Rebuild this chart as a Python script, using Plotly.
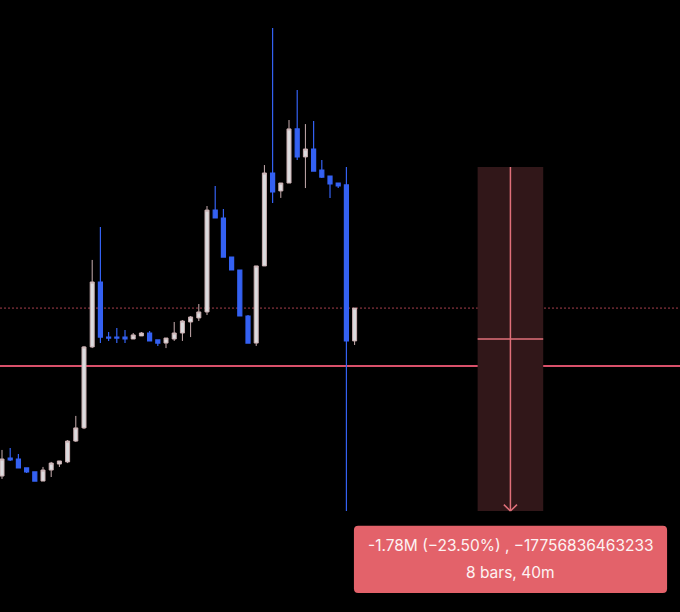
import plotly.graph_objects as go

# bar index (one bar = 5 minutes)
bars = list(range(44))

opens = [5.975, 6.068, 6.063, 6.017, 5.996, 5.949, 6.006, 6.037, 6.048, 6.156,
         6.224, 6.643, 6.979, 6.694, 6.694, 6.694, 6.684, 6.700, 6.715, 6.679,
         6.663, 6.684, 6.715, 6.772, 6.793, 6.824, 7.351, 7.310, 7.108, 7.041,
         6.803, 6.663, 7.062, 7.543, 7.450, 7.491, 7.771, 7.626, 7.667, 7.558,
         7.527, 7.491, 7.481, 6.674]
highs = [6.110, 6.120, 6.089, 6.017, 5.996, 6.022, 6.048, 6.053, 6.161, 6.286,
         6.648, 7.093, 7.264, 6.720, 6.741, 6.731, 6.715, 6.720, 6.725, 6.679,
         6.689, 6.772, 6.782, 6.803, 6.865, 7.372, 7.476, 7.357, 7.108, 7.041,
         6.808, 7.062, 7.584, 8.293, 7.491, 7.817, 7.972, 7.796, 7.812, 7.610,
         7.527, 7.491, 7.574, 6.844]
lows = [5.960, 6.053, 6.017, 5.991, 5.949, 5.949, 5.970, 6.022, 6.042, 6.151,
        6.218, 6.637, 6.663, 6.674, 6.663, 6.663, 6.684, 6.700, 6.674, 6.648,
        6.637, 6.674, 6.674, 6.694, 6.777, 6.808, 7.310, 7.108, 7.041, 6.803,
        6.663, 6.648, 7.062, 7.388, 7.414, 7.491, 7.610, 7.465, 7.553, 7.517,
        7.414, 7.465, 5.794, 6.653]
closes = [6.063, 6.058, 6.017, 5.996, 5.949, 6.006, 6.042, 6.053, 6.156, 6.224,
          6.643, 6.979, 6.694, 6.689, 6.689, 6.684, 6.705, 6.715, 6.674, 6.663,
          6.689, 6.715, 6.777, 6.798, 6.824, 7.351, 7.310, 7.108, 7.041, 6.803,
          6.663, 7.062, 7.543, 7.445, 7.491, 7.771, 7.626, 7.667, 7.553, 7.522,
          7.486, 7.476, 6.674, 6.844]

last_price = 6.844
alert_price = 6.544
measure_from, measure_to = 58, 66
measure_top, measure_bottom = 7.574, 5.794
measure_text = "-1.78M (\u221223.50%) , \u221217756836463233"
measure_sub = "8 bars, 40m"

UP = "#dcdcdf"
DOWN = "#3461f2"
RED = "#e3626a"
MEASURE_LINE = "#e0707a"

fig = go.Figure()
fig.add_trace(go.Candlestick(
    x=bars, open=opens, high=highs, low=lows, close=closes,
    increasing=dict(line=dict(color="#c9aeb0", width=1), fillcolor=UP),
    decreasing=dict(line=dict(color=DOWN, width=1.2), fillcolor=DOWN),
    whiskerwidth=0, hoverinfo="skip", showlegend=False,
))

mid = (measure_top + measure_bottom) / 2
cx = (measure_from + measure_to) / 2

# measure box
fig.add_shape(type="rect", x0=measure_from, x1=measure_to, y0=measure_bottom, y1=measure_top,
              fillcolor="#311719", line=dict(width=0), layer="below")
fig.add_shape(type="line", x0=measure_from, x1=measure_to, y0=mid, y1=mid,
              line=dict(color=MEASURE_LINE, width=1.5), layer="below")
# price lines
fig.add_shape(type="line", xref="paper", x0=0, x1=1, y0=last_price, y1=last_price,
              line=dict(color="#a53e4d", width=1, dash="2px,2px"), layer="below")
fig.add_shape(type="line", xref="paper", x0=0, x1=1, y0=alert_price, y1=alert_price,
              line=dict(color="#d9506a", width=2), layer="below")
# arrow
fig.add_shape(type="line", x0=cx, x1=cx, y0=measure_top, y1=measure_bottom,
              line=dict(color=MEASURE_LINE, width=1.5), layer="below")
fig.add_shape(type="line", x0=cx - 0.8, x1=cx, y0=measure_bottom + 0.033, y1=measure_bottom,
              line=dict(color=MEASURE_LINE, width=1.5))
fig.add_shape(type="line", x0=cx + 0.8, x1=cx, y0=measure_bottom + 0.033, y1=measure_bottom,
              line=dict(color=MEASURE_LINE, width=1.5))

# label box with rounded corners
r = 0.007
bx0, bx1, by0, by1 = 0.5205, 0.981, 0.031, 0.141
rx = r * 612 / 680
fig.add_shape(
    type="path", xref="paper", yref="paper",
    path=(f"M {bx0+rx} {by0} L {bx1-rx} {by0} Q {bx1} {by0} {bx1} {by0+r} "
          f"L {bx1} {by1-r} Q {bx1} {by1} {bx1-rx} {by1} "
          f"L {bx0+rx} {by1} Q {bx0} {by1} {bx0} {by1-r} "
          f"L {bx0} {by0+r} Q {bx0} {by0} {bx0+rx} {by0} Z"),
    fillcolor=RED, line=dict(width=0),
)
for txt, ty in [(measure_text, 0.108), (measure_sub, 0.064)]:
    fig.add_annotation(x=(bx0 + bx1) / 2, y=ty, xref="paper", yref="paper", text=txt,
                       xanchor="center", yanchor="middle", showarrow=False,
                       font=dict(family="Inter", size=15.5, color="#fdf3f3"))

fig.update_layout(
    width=680, height=612,
    paper_bgcolor="#000000", plot_bgcolor="#000000",
    margin=dict(l=0, r=0, t=0, b=0),
    xaxis=dict(range=[-0.244, 82.68], visible=False, rangeslider=dict(visible=False)),
    yaxis=dict(range=[5.2715, 8.438], visible=False),
    showlegend=False,
)

fig.write_html("out.html", config={"displayModeBar": False},
               post_script="document.body.style.margin='0';")
